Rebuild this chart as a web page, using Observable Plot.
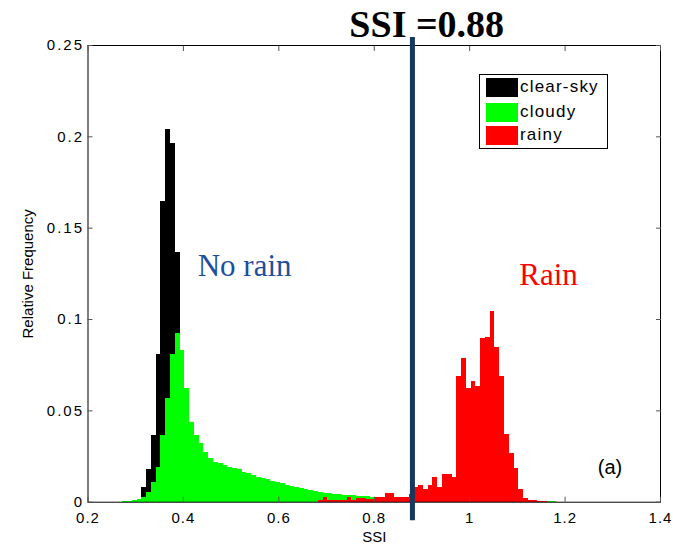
<!DOCTYPE html>
<html><head><meta charset="utf-8">
<script src="https://cdn.jsdelivr.net/npm/d3@7"></script>
<script src="https://cdn.jsdelivr.net/npm/@observablehq/plot@0.6"></script>
<style>
body{margin:0;background:#fff;}
#wrap{position:relative;width:673px;height:545px;}
#wrap g[aria-label="y-axis tick label"]{letter-spacing:2px;}
#wrap g[aria-label="x-axis tick label"]{letter-spacing:1px;}
#legend{position:absolute;left:479px;top:74px;width:127px;height:73px;border:1px solid #000;background:#fff;font-family:"Liberation Sans",Arial,sans-serif;font-size:17px;letter-spacing:1.2px;color:#000;}
.row{position:absolute;left:6px;height:19px;}
.sw{position:absolute;left:0;top:0;width:32px;height:19px;}
.lab{position:absolute;left:34px;top:-2px;line-height:22px;white-space:nowrap;}
</style></head><body><div id="wrap"></div>
<script>
// ---- data ----
const categories = ["clear-sky", "cloudy", "rainy"];
const colors = ["#000000", "#00ff00", "#ff0000"];
const binWidth = 0.01;

const clearSkyStart = 0.303;
const clearSky = [0.001, 0.008, 0.018, 0.0365, 0.081, 0.1646, 0.2039, 0.1962, 0.1369, 0.07, 0.04, 0.022, 0.012, 0.008, 0.006, 0.005, 0.004, 0.0035, 0.003, 0.0028, 0.0025, 0.0022, 0.002, 0.0018, 0.0016, 0.0015, 0.0014, 0.0013, 0.0012, 0.0011, 0.001, 0.001, 0.0009, 0.0009, 0.0008, 0.0008, 0.0007, 0.0007, 0.0006, 0.0006, 0.0005, 0.0005, 0.0005, 0.0004, 0.0004, 0.0004, 0.0003, 0.0003, 0.0003, 0.0003, 0.0002];

const cloudyStart = 0.273;
const cloudy = [0.0003, 0.0005, 0.0008, 0.0015, 0.0027, 0.0055, 0.011, 0.019, 0.0365, 0.0566, 0.081, 0.0922, 0.083, 0.062, 0.0438, 0.0365, 0.032, 0.0274, 0.0237, 0.0219, 0.021, 0.020, 0.0192, 0.0186, 0.0177, 0.0164, 0.0155, 0.0148, 0.0137, 0.0128, 0.0123, 0.0113, 0.0106, 0.0101, 0.0091, 0.0084, 0.0078, 0.0073, 0.0068, 0.0063, 0.0059, 0.0055, 0.005, 0.0047, 0.0044, 0.0041, 0.0038, 0.0036, 0.0034, 0.0032, 0.003, 0.0029, 0.0028, 0.0027, 0.0026, 0.0025, 0.0024, 0.0023, 0.0022, 0.0021, 0.002, 0.0019, 0.0018, 0.0017, 0.0016, 0.0015, 0.0014, 0.0013, 0.0012, 0.0011, 0.001, 0.001, 0.0009, 0.0009, 0.0008, 0.0008, 0.0007, 0.0007, 0.0006, 0.0006, 0.0005, 0.0005, 0.0005, 0.0004, 0.0004, 0.0004, 0.0003, 0.0003, 0.0003, 0.0004, 0.0002];

const rainyStart = 0.683;
const rainy = [0.0008, 0.0024, 0.001, 0.0008, 0.001, 0.0012, 0.0027, 0.0012, 0.002, 0.002, 0.0014, 0.0016, 0.0027, 0.0027, 0.0049, 0.0049, 0.0027, 0.0027, 0.0027, 0.004, 0.0079, 0.0093, 0.0068, 0.0093, 0.0134, 0.0082, 0.015, 0.015, 0.0137, 0.0688, 0.0788, 0.062, 0.066, 0.0633, 0.0894, 0.09, 0.1046, 0.0849, 0.0688, 0.0369, 0.0265, 0.0183, 0.0068, 0.0019, 0.0009, 0.0009, 0.0004, 0.0003];

const threshold = 0.88;
const titleText = "SSI =0.88";
const xTicks = [0.2, 0.4, 0.6, 0.8, 1.0, 1.2, 1.4];
const xTickLabels = ["0.2", "0.4", "0.6", "0.8", "1", "1.2", "1.4"];
const yTicks = [0, 0.05, 0.1, 0.15, 0.2, 0.25];
const yTickLabels = ["0", "0.05", "0.1", "0.15", "0.2", "0.25"];
const xLabel = "SSI";
const yLabel = "Relative Frequency";

// ---- build bins ----
function bins(start, values) {
  return values.map((v, i) => ({x1: start + i * binWidth, x2: start + (i + 1) * binWidth, v}));
}
const series = [bins(clearSkyStart, clearSky), bins(cloudyStart, cloudy), bins(rainyStart, rainy)];

const sans = '"Liberation Sans", Arial, sans-serif';
const serif = '"Liberation Serif", "Times New Roman", serif';

const chart = Plot.plot({
  width: 673,
  height: 545,
  marginLeft: 87.5,
  marginRight: 13,
  marginTop: 45,
  marginBottom: 43.3,
  x: {domain: [0.2, 1.4]},
  y: {domain: [0, 0.25]},
  style: {fontFamily: sans, fontSize: "15px", background: "#fff", overflow: "visible", color: "#000"},
  marks: [
    ...series.map((d, k) => Plot.rectY(d, {x1: "x1", x2: "x2", y: "v", fill: colors[k], shapeRendering: "crispEdges"})),
    Plot.frame({stroke: "#000", strokeWidth: 1}),
    // tick labels
    Plot.axisX(xTicks, {anchor: "bottom", tickSize: 0, tickPadding: 10, tickFormat: (d, i) => xTickLabels[i], label: null, fontSize: 15}),
    Plot.axisY(yTicks, {anchor: "left", tickSize: 0, tickPadding: 4, tickFormat: (d, i) => yTickLabels[i], label: null, fontSize: 15}),
    // inward tick marks on all sides
    Plot.axisX(xTicks, {anchor: "bottom", tickSize: 5, dy: -5, tickFormat: () => "", label: null, stroke: "#555"}),
    Plot.axisX(xTicks, {anchor: "top", tickSize: 5, dy: 5, tickFormat: () => "", label: null, stroke: "#555"}),
    Plot.axisY(yTicks, {anchor: "left", tickSize: 5, dx: 5, tickFormat: () => "", label: null, stroke: "#555"}),
    Plot.axisY(yTicks, {anchor: "right", tickSize: 5, dx: -5, tickFormat: () => "", label: null, stroke: "#555"}),
    // axis titles
    Plot.text([xLabel], {frameAnchor: "bottom", dy: 40, lineAnchor: "bottom", fontSize: 15, text: d => d}),
    Plot.text([yLabel], {frameAnchor: "left", dx: -60, rotate: -90, textAnchor: "middle", lineAnchor: "middle", fontSize: 15, text: d => d}),
    // threshold line
    Plot.ruleX([threshold], {y1: -0.0102, y2: 0.2544, stroke: "#17375e", strokeWidth: 5}),
    // annotations
    Plot.text([titleText], {x: 0.91, y: 0.2544, text: d => d, fontFamily: serif, fontWeight: "bold", fontSize: 38, lineAnchor: "bottom", fill: "#000"}),
    Plot.text(["No rain"], {x: 0.43, y: 0.124, text: d => d, fontFamily: serif, fontSize: 31, textAnchor: "start", lineAnchor: "bottom", fill: "#1f4e9a"}),
    Plot.text(["Rain"], {x: 1.104, y: 0.119, text: d => d, fontFamily: serif, fontSize: 31, textAnchor: "start", lineAnchor: "bottom", fill: "#ff0000"}),
    Plot.text(["(a)"], {x: 1.2686, y: 0.0157, text: d => d, fontFamily: sans, fontSize: 20, textAnchor: "start", lineAnchor: "bottom", fill: "#000"})
  ]
});

const wrap = document.getElementById("wrap");
wrap.appendChild(chart);

// legend
const legend = document.createElement("div");
legend.id = "legend";
const rowTops = [3, 28, 51];
categories.forEach((c, i) => {
  const row = document.createElement("div");
  row.className = "row";
  row.style.top = rowTops[i] + "px";
  const sw = document.createElement("div");
  sw.className = "sw";
  sw.style.background = colors[i];
  const lab = document.createElement("div");
  lab.className = "lab";
  lab.textContent = c;
  row.appendChild(sw);
  row.appendChild(lab);
  legend.appendChild(row);
});
wrap.appendChild(legend);
</script></body></html>
